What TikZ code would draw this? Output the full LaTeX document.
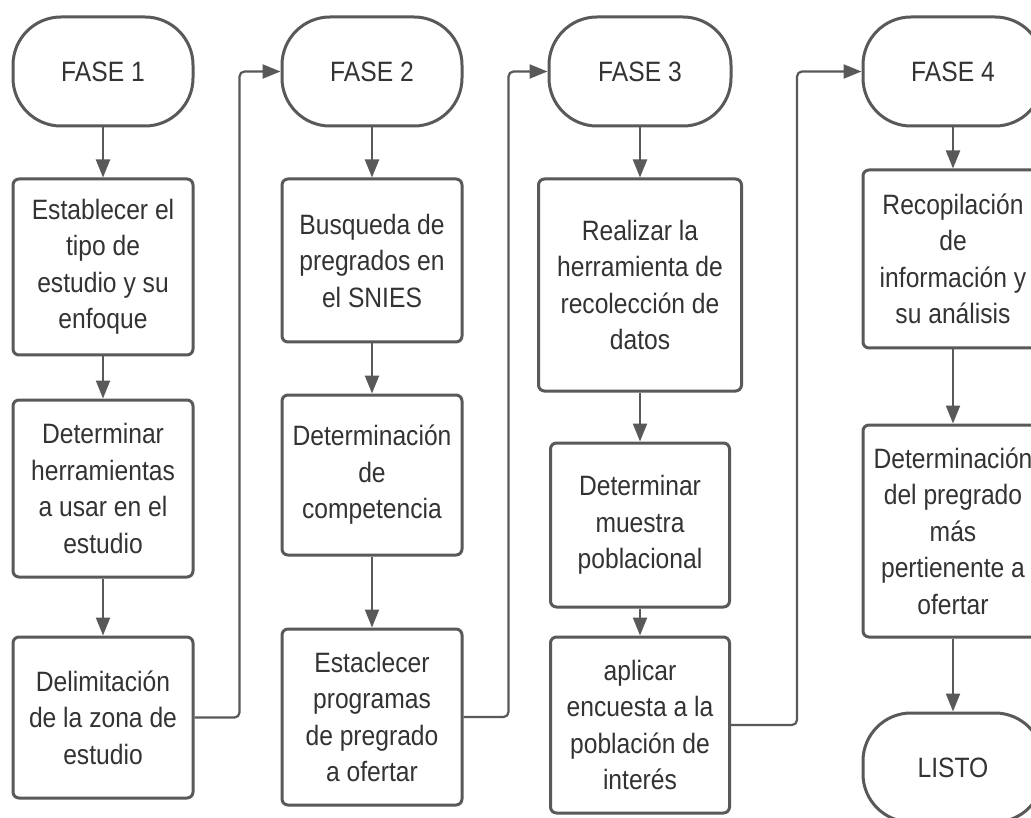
\documentclass[tikz,border=0pt]{standalone}
\usepackage{fontspec}
\setmainfont{Liberation Sans}[FakeStretch=0.88]
\usetikzlibrary{arrows.meta}
\definecolor{ln}{HTML}{595959}
\definecolor{tx}{HTML}{333333}
\begin{document}
\begin{tikzpicture}[x=1pt,y=-1pt,
  box/.style={draw=ln,line width=3pt,rounded corners=6pt,inner sep=0pt,align=center,text=tx,font=\fontsize{28}{36.5}\selectfont,fill=white,minimum width=180pt},
  term/.style={box,rounded corners=48pt,minimum height=109pt},
  arr/.style={draw=ln,line width=2.2pt,-{Triangle[length=18pt,width=14pt]}},
  link/.style={arr,rounded corners=5pt}]
\useasboundingbox (0,0) rectangle (1031,818);
\clip (0,0) rectangle (1031,818);
\fill[white] (0,0) rectangle (1031,818);
% column 1
\node[term] (F1) at (103,71.5) {FASE 1};
\node[box,minimum height=176pt] (A1) at (103,267) {Establecer el\\tipo de\\estudio y su\\enfoque};
\node[box,minimum height=177pt] (A2) at (103,488.5) {Determinar\\herramientas\\a usar en el\\estudio};
\node[box,minimum height=161pt] (A3) at (103,717.5) {Delimitación\\de la zona de\\estudio};
% column 2
\node[term] (F2) at (372,71.5) {FASE 2};
\node[box,minimum height=163pt] (B1) at (372,260.5) {Busqueda de\\pregrados en\\el SNIES};
\node[box,minimum height=160pt] (B2) at (372,475) {Determinación\\de\\competencia};
\node[box,minimum height=176pt] (B3) at (372,717) {Estaclecer\\programas\\de pregrado\\a ofertar};
% column 3
\node[term,minimum width=182pt] (F3) at (640,71.5) {FASE 3};
\node[box,minimum width=203pt,minimum height=212pt] (C1) at (640,285) {Realizar la\\herramienta de\\recolección de\\datos};
\node[box,minimum width=179pt,minimum height=164pt] (C2) at (640,525) {Determinar\\muestra\\poblacional};
\node[box,minimum width=179pt,minimum height=176pt] (C3) at (640,725) {aplicar\\encuesta a la\\población de\\interés};
% column 4
\node[term] (F4) at (953,71.5) {FASE 4};
\node[box,minimum height=178pt] (D1) at (953,259) {Recopilación\\de\\información y\\su análisis};
\node[box,minimum height=212pt] (D2) at (953,531) {Determinación\\del pregrado\\más\\pertienente a\\ofertar};
\node[term] (L) at (953,767.5) {LISTO};
% arrows
\draw[arr] (F1) -- (A1);
\draw[arr] (A1) -- (A2);
\draw[arr] (A2) -- (A3);
\draw[arr] (F2) -- (B1);
\draw[arr] (B1) -- (B2);
\draw[arr] (B2) -- (B3);
\draw[arr] (F3) -- (C1);
\draw[arr] (C1) -- (C2);
\draw[arr] (C2) -- (C3);
\draw[arr] (F4) -- (D1);
\draw[arr] (D1) -- (D2);
\draw[arr] (D2) -- (L);
\draw[link] (A3.east) -- ++(45,0) |- (F2.west);
\draw[link] (B3.east) -- ++(45,0) |- (F3.west);
\draw[link] (C3.east) -- ++(66,0) |- (F4.west);
\end{tikzpicture}
\end{document}
